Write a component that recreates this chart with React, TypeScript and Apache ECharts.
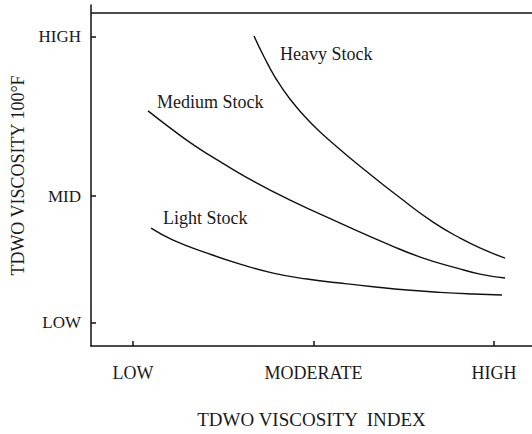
import React, { useEffect, useRef } from "react";
import * as echarts from "echarts";

// x: 1 = LOW, 2 = MODERATE, 3 = HIGH (viscosity index)
// y: relative viscosity at 100°F, LOW = 7, MID = 45, HIGH = 93
const xTickValues = [1, 2, 3];
const xTickLabels = ["LOW", "MODERATE", "HIGH"];
const yTickValues = [7, 45, 93];
const yTickLabels = ["LOW", "MID", "HIGH"];

const heavyX = [1.67, 1.726, 1.787, 1.87, 1.981, 2.119, 2.285, 2.479, 2.662, 2.812, 2.95, 3.061];
const heavyY = [93.1, 86.8, 80.7, 74.1, 67.2, 60.3, 52.8, 44.5, 37.2, 32.4, 28.8, 26.4];

const mediumX = [1.083, 1.205, 1.343, 1.493, 1.676, 1.87, 2.147, 2.424, 2.607, 2.795, 2.922, 3.061];
const mediumY = [70.6, 65.5, 60.1, 55.0, 49.2, 43.8, 36.9, 30.3, 26.4, 23.4, 21.6, 20.4];

const lightX = [1.1, 1.222, 1.41, 1.593, 1.776, 1.964, 2.147, 2.33, 2.518, 2.701, 2.884, 3.044];
const lightY = [35.4, 31.8, 27.9, 24.6, 21.9, 20.1, 18.9, 17.8, 16.8, 16.1, 15.6, 15.3];

const seriesNames = ["Heavy Stock", "Medium Stock", "Light Stock"];
const labelX = [1.814, 1.133, 1.166];
const labelY = [87.6, 73.3, 38.4];

const FRAME_TOP = 100;
const FONT = "Liberation Serif";

export default function App() {
  const ref = useRef<HTMLDivElement>(null);
  useEffect(() => {
    if (!ref.current) return;
    document.body.style.margin = "0";
    const chart = echarts.init(ref.current, null, { renderer: "svg" });
    const zip = (xs: number[], ys: number[]) => xs.map((x, i) => [x, ys[i]]);
    const datasets = [zip(heavyX, heavyY), zip(mediumX, mediumY), zip(lightX, lightY)];
    const xMin = 0.767;
    const xMax = 3.21;
    chart.setOption({
      animation: false,
      backgroundColor: "#ffffff",
      grid: { left: 91, right: 0, top: 5, bottom: 88, containLabel: false, outerBoundsMode: "none" },
      xAxis: {
        type: "value",
        min: xMin,
        max: xMax,
        name: "TDWO VISCOSITY  INDEX",
        nameLocation: "middle",
        nameGap: 64,
        nameTextStyle: { fontFamily: FONT, fontSize: 19, color: "#1a1a1a" },
        axisLine: { show: true, onZero: false, lineStyle: { color: "#111", width: 1.5 } },
        axisTick: { show: true, inside: true, length: 5, customValues: xTickValues, lineStyle: { color: "#111", width: 1.5 } },
        axisLabel: {
          show: true,
          customValues: xTickValues,
          margin: 18,
          fontFamily: FONT,
          fontSize: 18,
          color: "#1a1a1a",
          formatter: (v: number) => xTickLabels[xTickValues.indexOf(Math.round(v))] ?? "",
        },
        splitLine: { show: false },
      },
      yAxis: {
        type: "value",
        min: 0,
        max: 102.4,
        name: "TDWO VISCOSITY 100°F",
        nameLocation: "middle",
        nameGap: 64,
        nameTextStyle: { fontFamily: FONT, fontSize: 18, color: "#1a1a1a" },
        axisLine: { show: true, onZero: false, lineStyle: { color: "#111", width: 1.5 } },
        axisTick: { show: true, inside: true, length: 5, customValues: yTickValues, lineStyle: { color: "#111", width: 1.5 } },
        axisLabel: {
          show: true,
          customValues: yTickValues,
          margin: 10,
          fontFamily: FONT,
          fontSize: 17,
          color: "#1a1a1a",
          formatter: (v: number) => yTickLabels[yTickValues.indexOf(Math.round(v))] ?? "",
        },
        splitLine: { show: false },
      },
      series: datasets.map((d, i) => ({
        type: "line",
        name: seriesNames[i],
        data: d,
        smooth: 0.5,
        symbol: "none",
        lineStyle: { color: "#111", width: 1.4 },
        markLine:
          i === 0
            ? {
                silent: true,
                symbol: ["none", "none"],
                label: { show: false },
                lineStyle: { color: "#111", width: 1.5, type: "solid" },
                data: [{ yAxis: FRAME_TOP }],
              }
            : undefined,
        markPoint: {
          symbol: "circle",
          symbolSize: 0,
          itemStyle: { color: "transparent" },
          label: {
            show: true,
            position: "right",
            distance: 0,
            fontFamily: FONT,
            fontSize: 18,
            color: "#1a1a1a",
            formatter: seriesNames[i],
          },
          data: [{ coord: [labelX[i], labelY[i]] }],
        },
      })),
    });
    return () => chart.dispose();
  }, []);
  return <div ref={ref} style={{ width: 532, height: 434 }} />;
}
